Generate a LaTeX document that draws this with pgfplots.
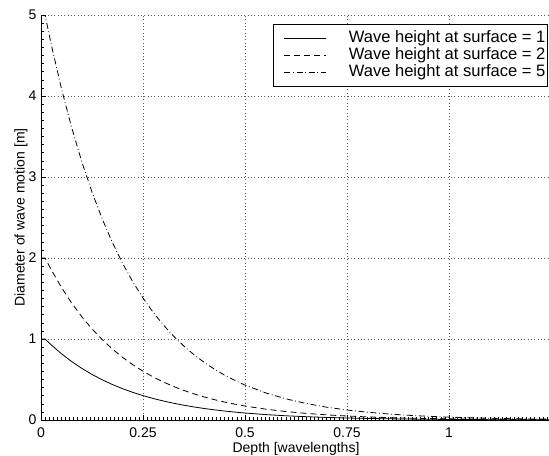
\documentclass[border=0pt]{standalone}
\usepackage{fontspec}
\setmainfont{Liberation Sans}
\usepackage{pgfplots}
\usepackage{pgfplotstable}
\pgfplotsset{compat=1.18}

% depth [wavelengths], diameter for surface heights 1, 2 and 5
\pgfplotstableread{
x     a      b      c
0     1      2      5
0.01  1      2      5
0.025 0.9277 1.8554 4.6385
0.05  0.8187 1.6374 4.0935
0.075 0.7225 1.4450 3.6125
0.1   0.6376 1.2752 3.1880
0.125 0.5627 1.1254 2.8135
0.15  0.4966 0.9932 2.4830
0.175 0.4382 0.8764 2.1910
0.2   0.3867 0.7734 1.9335
0.225 0.3413 0.6826 1.7065
0.25  0.3012 0.6024 1.5060
0.275 0.2658 0.5316 1.3290
0.3   0.2346 0.4692 1.1730
0.325 0.2070 0.4140 1.0350
0.35  0.1827 0.3654 0.9135
0.375 0.1612 0.3224 0.8060
0.4   0.1423 0.2846 0.7115
0.425 0.1256 0.2512 0.6280
0.45  0.1108 0.2216 0.5540
0.475 0.0978 0.1956 0.4890
0.5   0.0863 0.1726 0.4315
0.55  0.0672 0.1344 0.3360
0.6   0.0523 0.1046 0.2615
0.65  0.0408 0.0816 0.2040
0.7   0.0317 0.0634 0.1585
0.75  0.0247 0.0494 0.1235
0.8   0.0193 0.0386 0.0965
0.85  0.0150 0.0300 0.0750
0.9   0.0117 0.0234 0.0585
0.95  0.0091 0.0182 0.0455
1.0   0.0071 0.0142 0.0355
1.05  0.0055 0.0110 0.0275
1.1   0.0043 0.0086 0.0215
1.15  0.0033 0.0066 0.0165
1.2   0.0026 0.0052 0.0130
1.25  0.0020 0.0040 0.0100
}\wavedata

\begin{document}
\begin{tikzpicture}
% the reference is cut off on the right, so the picture is cut the same way
\useasboundingbox (-30.75pt,-26.25pt) rectangle (381pt,315pt);
\clip (-30.75pt,-26.25pt) rectangle (381pt,315pt);
\begin{axis}[
  at={(0,0)}, anchor=south west,
  scale only axis,
  width=382.5pt, height=303.75pt,
  xmin=0, xmax=1.25, ymin=0, ymax=5,
  axis lines=left,
  axis line style={-, line width=0.5pt},
  xtick={0,0.25,0.5,0.75,1,1.25},
  xticklabels={0,0.25,0.5,0.75,1,},
  ytick={0,1,2,3,4,5},
  minor x tick num=24,
  minor y tick num=9,
  tick align=inside,
  major tick length=4pt,
  minor tick length=2pt,
  tick style={black, line width=0.4pt},
  grid=major,
  grid style={black!65, line width=0.5pt, dash pattern=on 0.5pt off 2pt},
  ticklabel style={font=\fontsize{10.5}{12}\selectfont},
  xticklabel style={yshift=-2pt},
  /pgf/number format/assume math mode=true,
  label style={font=\fontsize{10.5}{12}\selectfont},
  xlabel={Depth [wavelengths]},
  ylabel={Diameter of wave motion [m]},
  xlabel style={at={(axis description cs:0.5,0)}, anchor=base, yshift=-24pt},
  ylabel style={at={(axis description cs:-0.039,0.5)}, anchor=center},
  legend cell align=left,
  legend style={at={(axis description cs:0.455,0.978)}, anchor=north west,
    draw=black, line width=0.5pt, fill=white,
    font=\fontsize{12.4}{14}\selectfont,
    inner xsep=1pt, inner ysep=4pt, row sep=0pt, column sep=16pt,
    nodes={inner sep=0.5pt, text height=9pt, text depth=2.75pt}},
  legend image code/.code={\path (0pt,0pt); \draw[#1] (7pt,0pt) -- (38.5pt,0pt);},
]
\addplot[black, line width=0.6pt] table[x=x, y=a] {\wavedata};
\addlegendentry{Wave height at surface = 1}
\addplot[black, line width=0.6pt, dash pattern=on 4.5pt off 3pt] table[x=x, y=b] {\wavedata};
\addlegendentry{Wave height at surface = 2}
\addplot[black, line width=0.6pt, dash pattern=on 4.5pt off 2pt on 0.6pt off 2pt] table[x=x, y=c] {\wavedata};
\addlegendentry{Wave height at surface = 5}
\end{axis}
\end{tikzpicture}
\end{document}
